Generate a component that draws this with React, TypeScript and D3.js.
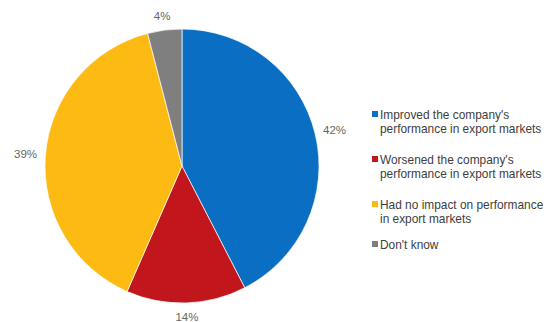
import React from "react";
import * as d3 from "d3";

const categories = [
  "Improved the company's|performance in export markets",
  "Worsened the company's|performance in export markets",
  "Had no impact on performance|in export markets",
  "Don't know",
];
const values = [42, 14, 39, 4];
const labels = ["42%", "14%", "39%", "4%"];
const colors = ["#0A6FC2", "#C0161C", "#FDBA12", "#7F7F7F"];

export default function App() {
  const W = 547, H = 322;
  const cx = 182, cy = 166, r = 137;
  const pie = d3.pie<number>().sort(null).value((d) => d);
  const arcs = pie(values);
  const arc = d3.arc<d3.PieArcDatum<number>>().innerRadius(0).outerRadius(r);
  const rx = r + 20, ry = r + 14;
  const legendY = [115, 160, 205, 245];
  return (
    <svg width={W} height={H} style={{ position: "absolute", left: 0, top: 0, fontFamily: "'Liberation Sans', Arial, sans-serif" }}>
      <rect width={W} height={H} fill="#fff" />
      <g transform={`translate(${cx},${cy})`}>
        {arcs.map((a, i) => (
          <path key={i} d={arc(a) || ""} fill={colors[i]} stroke="#fff" strokeWidth={0.7} />
        ))}
        {arcs.map((a, i) => {
          const mid = (a.startAngle + a.endAngle) / 2;
          const x = Math.sin(mid) * rx;
          const y = -Math.cos(mid) * ry;
          return (
            <text key={i} x={x} y={y} textAnchor="middle" dominantBaseline="central" fontSize={11.5} fill="#666">
              {labels[i]}
            </text>
          );
        })}
      </g>
      {categories.map((c, i) => {
        const lines = c.split("|");
        const y0 = legendY[i];
        return (
          <g key={i}>
            <rect x={372} y={y0 - 4} width={6} height={6} fill={colors[i]} />
            {lines.map((l, j) => (
              <text key={j} x={380} y={y0 + j * 13.5} dominantBaseline="central" fontSize={11.9} fill="#404040">
                {l}
              </text>
            ))}
          </g>
        );
      })}
    </svg>
  );
}
